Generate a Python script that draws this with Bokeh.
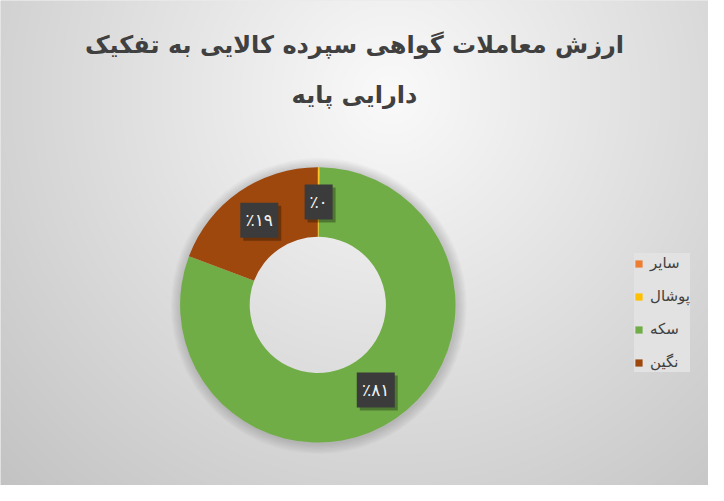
import numpy as np
from bokeh.plotting import figure
from bokeh.models import Range1d, Legend, LegendItem, ColumnDataSource
from bokeh.core.properties import value
from bokeh.embed import file_html
from bokeh.resources import INLINE

title_lines = ["ارزش معاملات گواهی سپرده کالایی به تفکیک", "دارایی پایه"]
categories = ["سایر", "پوشال", "سکه", "نگین"]
values = [0.05, 0.15, 80.55, 19.25]
colors = ["#ED7D31", "#FFC000", "#70AD47", "#9E480E"]
show_label = [False, True, True, True]

W, H = 708, 485
p = figure(width=W, height=H, x_range=Range1d(0, W), y_range=Range1d(0, H),
           output_backend="svg", toolbar_location=None, min_border=0)
p.axis.visible = False
p.grid.visible = False
p.outline_line_color = None
p.background_fill_color = "#d8d8d8"
p.border_fill_color = "#d8d8d8"

# background radial gradient
yy, xx = np.mgrid[0:H, 0:W]
gcx, gcy = 390, H - 95
d = np.hypot(xx - gcx, yy - gcy)
g = np.clip(250 - 0.1 * d, 0, 255).astype(np.uint32)
img = ((255 << 24) | (g << 16) | (g << 8) | g).astype(np.uint32)
p.image_rgba(image=[img], x=0, y=0, dw=W, dh=H)

CX, CY = 317.3, 180.6
R_IN, R_OUT = 68.1, 137.7

# soft shadow halo around the ring
for k in range(1, 9):
    p.annulus(x=[CX + 1], y=[CY - 1], inner_radius=R_OUT - 2, outer_radius=R_OUT + k * 1.3,
              fill_color="black", fill_alpha=0.02, line_color=None)

total = sum(values)
fr = np.array(values) / total
cum = np.concatenate([[0], np.cumsum(fr)])
start = np.pi / 2 - 2 * np.pi * cum[:-1]
end = np.pi / 2 - 2 * np.pi * cum[1:]

src = ColumnDataSource(dict(start=end, end=start, color=colors, cat=categories))
wr = p.annular_wedge(x=CX, y=CY, inner_radius=R_IN, outer_radius=R_OUT,
                     start_angle="start", end_angle="end", direction="anticlock",
                     fill_color="color", line_color=None, source=src)

# data labels
fa_digits = str.maketrans("0123456789", "۰۱۲۳۴۵۶۷۸۹")
mid = np.pi / 2 - 2 * np.pi * (cum[:-1] + cum[1:]) / 2
rl = (R_IN + R_OUT) / 2
lx, ly, lt, lw = [], [], [], []
for i in range(len(values)):
    if not show_label[i]:
        continue
    t = ("٪" + str(round(values[i] / total * 100))).translate(fa_digits)
    lx.append(CX + rl * np.cos(mid[i]))
    ly.append(CY + rl * np.sin(mid[i]))
    lt.append(t)
    lw.append(10 * len(t) + 8)
lsrc = ColumnDataSource(dict(x=lx, y=ly, t=lt, w=lw,
                             sx=[v + 3 for v in lx], sy=[v - 3 for v in ly]))
p.rect(x="sx", y="sy", width="w", height=35, source=lsrc, fill_color="black",
       fill_alpha=0.3, line_color=None)
p.rect(x="x", y="y", width="w", height=35, source=lsrc, fill_color="#3b3b3b",
       line_color=None)
p.text(x="x", y="y", text="t", source=lsrc, text_align="center", text_baseline="middle",
       text_font=value("DejaVu Sans"), text_font_size="17px", text_color="#f2f2f2")

# title
tsrc = ColumnDataSource(dict(x=[354, 354], y=[441, 391], t=title_lines))
p.text(x="x", y="y", text="t", source=tsrc, text_align="center", text_baseline="middle",
       text_font=value("DejaVu Sans"), text_font_style="bold", text_font_size="24px",
       text_color="#404040")

items = [LegendItem(label=categories[i], renderers=[wr], index=i) for i in range(len(categories))]
legend = Legend(items=items, location=(634, 113), glyph_width=9, glyph_height=9,
                label_height=20, spacing=13, padding=8, margin=0, label_standoff=7,
                label_text_font="DejaVu Sans", label_text_font_size="15px",
                label_text_color="#404040", background_fill_color="#e2e2e2",
                background_fill_alpha=1.0, border_line_color=None)
p.add_layout(legend)

open("out.html", "w").write(file_html(p, INLINE))
